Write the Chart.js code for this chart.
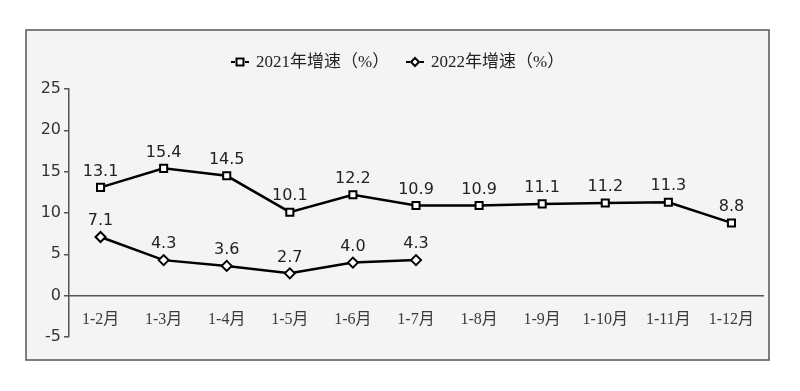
<!DOCTYPE html>
<html>
<head>
<meta charset="utf-8">
<script src="https://cdn.jsdelivr.net/npm/chart.js@4"></script>
<style>
  html, body { margin: 0; padding: 0; background: #fff; }
  #wrap { width: 800px; height: 391px; }
</style>
</head>
<body>
<div id="wrap"><canvas id="myChart" width="800" height="391"></canvas></div>
<script>
var labels = ['1-2月', '1-3月', '1-4月', '1-5月', '1-6月', '1-7月', '1-8月', '1-9月', '1-10月', '1-11月', '1-12月'];
var growth2021 = [13.1, 15.4, 14.5, 10.1, 12.2, 10.9, 10.9, 11.1, 11.2, 11.3, 8.8];
var growth2022 = [7.1, 4.3, 3.6, 2.7, 4.0, 4.3, null, null, null, null, null];
var seriesNames = ['2021年增速（%）', '2022年增速（%）'];
var yTicks = [-5, 0, 5, 10, 15, 20, 25];

var serif = '"Liberation Serif", "Noto Sans CJK SC", serif';
var sans = '"DejaVu Sans", sans-serif';

// grey panel behind the chart
var panel = {
  id: 'panel',
  beforeDraw: function (chart) {
    var c = chart.ctx;
    c.save();
    c.fillStyle = '#f4f4f4';
    c.fillRect(26, 30, 743, 330);
    c.strokeStyle = '#555';
    c.lineWidth = 1.5;
    c.strokeRect(26, 30, 743, 330);
    c.restore();
  }
};

// value labels over points
var valueLabels = {
  id: 'valueLabels',
  afterDatasetsDraw: function (chart) {
    var c = chart.ctx;
    c.save();
    c.font = '16px ' + sans;
    c.fillStyle = '#222';
    c.textAlign = 'center';
    c.textBaseline = 'bottom';
    chart.data.datasets.forEach(function (ds, i) {
      var meta = chart.getDatasetMeta(i);
      meta.data.forEach(function (pt, j) {
        var v = ds.data[j];
        if (v === null) return;
        c.fillText(v.toFixed(1), pt.x, pt.y - 8);
      });
    });
    c.restore();
  }
};

// legend with -marker- swatches
var legendBox = {
  id: 'legendBox',
  afterDraw: function (chart) {
    var c = chart.ctx;
    var items = [{ x: 231, style: 'rect' }, { x: 406, style: 'diamond' }];
    var y = 62;
    c.save();
    items.forEach(function (it, i) {
      c.strokeStyle = '#000';
      c.lineWidth = 2;
      c.beginPath();
      c.moveTo(it.x, y); c.lineTo(it.x + 4, y);
      c.moveTo(it.x + 14, y); c.lineTo(it.x + 18, y);
      c.stroke();
      c.fillStyle = '#fff';
      c.beginPath();
      if (it.style === 'rect') {
        c.rect(it.x + 5.5, y - 3.5, 7, 7);
      } else {
        c.moveTo(it.x + 9, y - 4); c.lineTo(it.x + 13, y);
        c.lineTo(it.x + 9, y + 4); c.lineTo(it.x + 5, y);
        c.closePath();
      }
      c.fill(); c.stroke();
      c.fillStyle = '#222';
      c.font = '17px ' + serif;
      c.textAlign = 'left';
      c.textBaseline = 'middle';
      c.fillText(seriesNames[i], it.x + 25, y + 1);
    });
    c.restore();
  }
};

var ctx = document.getElementById('myChart').getContext('2d');
var config = {
  type: 'line',
  data: {
    labels: labels,
    datasets: [{
      label: seriesNames[0],
      data: growth2021,
      borderColor: '#000',
      borderWidth: 2.5,
      pointStyle: 'rect',
      pointRadius: 5,
      pointBorderWidth: 2,
      pointBackgroundColor: '#fff',
      pointBorderColor: '#000',
      tension: 0
    }, {
      label: seriesNames[1],
      data: growth2022,
      borderColor: '#000',
      borderWidth: 2.5,
      pointStyle: 'rectRot',
      pointRadius: 5,
      pointBorderWidth: 2,
      pointBackgroundColor: '#fff',
      pointBorderColor: '#000',
      spanGaps: false,
      tension: 0
    }]
  },
  options: {
    responsive: false,
    animation: false,
    devicePixelRatio: 1,
    layout: { padding: { left: 26, top: 89, right: 37, bottom: 54 } },
    plugins: {
      legend: { display: false },
      tooltip: { enabled: false }
    },
    scales: {
      x: {
        type: 'category',
        offset: true,
        position: { y: 0 },
        grid: { display: false },
        border: { display: true, color: '#555', width: 1.5 },
        ticks: {
          color: '#3a3a3a',
          font: { family: serif, size: 16 },
          padding: 7,
          maxRotation: 0,
          autoSkip: false
        }
      },
      y: {
        min: -5,
        max: 25,
        afterFit: function (scale) { scale.width = 43; },
        afterBuildTicks: function (scale) {
          scale.ticks = yTicks.map(function (v) { return { value: v }; });
        },
        grid: {
          drawOnChartArea: false,
          drawTicks: true,
          tickLength: 5,
          color: '#555',
          lineWidth: 1.5
        },
        border: { display: true, color: '#555', width: 1.5 },
        ticks: {
          color: '#333',
          font: { family: sans, size: 16 },
          padding: 3
        }
      }
    }
  },
  plugins: [panel, valueLabels, legendBox]
};

var chart = new Chart(ctx, config);
</script>
</body>
</html>
